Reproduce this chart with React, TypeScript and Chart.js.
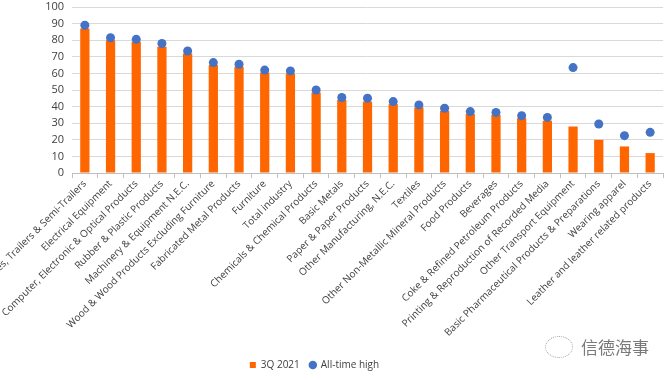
import React, { useEffect, useRef } from "react";
import { Chart, registerables } from "chart.js";

Chart.register(...registerables);

const categories = [
  "Motor Vehicles, Trailers & Semi-Trailers",
  "Electrical Equipment",
  "Computer, Electronic & Optical Products",
  "Rubber & Plastic Products",
  "Machinery & Equipment N.E.C.",
  "Wood & Wood Products Excluding Furniture",
  "Fabricated Metal Products",
  "Furniture",
  "Total industry",
  "Chemicals & Chemical Products",
  "Basic Metals",
  "Paper & Paper Products",
  "Other Manufacturing, N.E.C.",
  "Textiles",
  "Other Non-Metallic Mineral Products",
  "Food Products",
  "Beverages",
  "Coke & Refined Petroleum Products",
  "Printing & Reproduction of Recorded Media",
  "Other Transport Equipment",
  "Basic Pharmaceutical Products & Preparations",
  "Wearing apparel",
  "Leather and leather related products",
];

const q3_2021 = [87, 80, 79, 76, 72, 65, 64, 60.5, 60, 48.5, 44, 43, 41.5, 39.5, 37.5, 35.5, 35, 33, 31.5, 28, 20, 16, 12];
const allTimeHigh = [89, 81.5, 80.5, 78, 73.5, 66.5, 65.5, 62, 61.5, 50, 45.5, 45, 43, 41, 39, 37, 36.5, 34.5, 33.5, 63.5, 29.5, 22.5, 24.5];

const seriesNames = ["3Q 2021", "All-time high"];
const yTickValues = [0, 10, 20, 30, 40, 50, 60, 70, 80, 90, 100];

const legendShift = {
  id: "legendShift",
  afterLayout(chart: any) {
    if (chart.legend) {
      chart.legend.right -= 42;
      chart.legend.width -= 42;
    }
  },
};

export default function App() {
  const ref = useRef<HTMLCanvasElement | null>(null);
  useEffect(() => {
    if (!ref.current) return;
    const font = "'Open Sans', 'DejaVu Sans', sans-serif";
    const chart = new Chart(ref.current, {
      type: "bar",
      data: {
        labels: categories,
        datasets: [
          {
            type: "bar",
            label: seriesNames[0],
            data: q3_2021,
            backgroundColor: "#FF6600",
            borderWidth: 0,
            barPercentage: 0.36,
            categoryPercentage: 1,
            pointStyle: "rect",
            order: 2,
          } as any,
          {
            type: "line",
            label: seriesNames[1],
            data: allTimeHigh,
            showLine: false,
            backgroundColor: "#4472C4",
            borderColor: "#4472C4",
            pointRadius: 4.5,
            pointBorderWidth: 0,
            pointStyle: "circle",
            order: 1,
          } as any,
        ],
      },
      plugins: [legendShift],
      options: {
        animation: false,
        responsive: true,
        maintainAspectRatio: false,
        layout: { padding: { left: 8, right: 7, top: 7, bottom: 0 } },
        plugins: {
          tooltip: { enabled: false },
          legend: {
            position: "bottom",
            labels: {
              usePointStyle: true,
              boxWidth: 6,
              boxHeight: 6,
              padding: 10,
              color: "#404040",
              font: { family: font, size: 10 },
              sort: (a: any, b: any) => a.datasetIndex - b.datasetIndex,
            },
          },
        },
        scales: {
          x: {
            offset: true,
            grid: {
              offset: true,
              drawOnChartArea: false,
              drawTicks: true,
              tickLength: 5,
              color: "#bfbfbf",
            },
            border: { color: "#bfbfbf" },
            ticks: {
              autoSkip: false,
              maxRotation: 45,
              minRotation: 45,
              padding: 0,
              color: "#404040",
              font: { family: font, size: 10 },
            },
            afterFit: (scale: any) => {
              scale.paddingLeft = 0;
              scale.paddingRight = 0;
              scale.height = 177;
            },
          },
          y: {
            min: 0,
            max: 100,
            ticks: {
              autoSkip: false,
              stepSize: 10,
              padding: 8,
              color: "#404040",
              font: { family: font, size: 11 },
            },
            afterBuildTicks: (scale: any) => {
              scale.ticks = yTickValues.map((v) => ({ value: v }));
            },
            grid: { color: "#d9d9d9", drawTicks: false },
            border: { display: false },
            afterFit: (scale: any) => {
              scale.width = 64;
              scale.paddingTop = 0;
              scale.paddingBottom = 0;
            },
          },
        },
      },
    });
    return () => chart.destroy();
  }, []);

  return (
    <div style={{ position: "fixed", left: 0, top: 0, width: 670, height: 380, background: "#fff" }}>
      <canvas ref={ref} />
      <div
        style={{
          position: "absolute",
          left: 545,
          top: 334,
          display: "flex",
          alignItems: "center",
          gap: 8,
          color: "#7a7a7a",
          fontFamily: "'Noto Sans CJK SC', sans-serif",
          fontSize: 17,
        }}
      >
        <span
          style={{
            display: "inline-block",
            width: 26,
            height: 20,
            border: "1.5px dotted #aaa",
            borderRadius: "50%",
          }}
        />
        <span>信德海事</span>
      </div>
    </div>
  );
}
